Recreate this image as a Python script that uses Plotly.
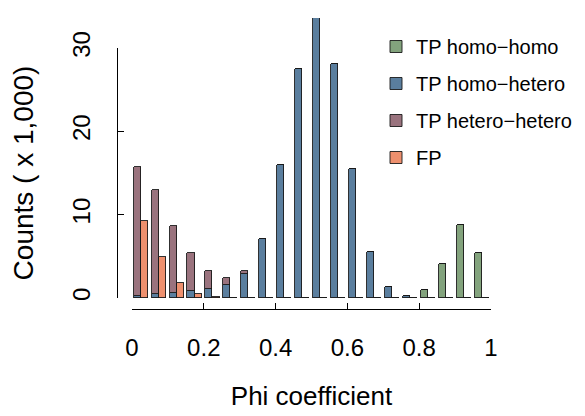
import plotly.graph_objects as go

# ---- data (counts in thousands) ----
bin_starts = [0.00, 0.05, 0.10, 0.15, 0.20, 0.25, 0.30, 0.35, 0.40, 0.45,
              0.50, 0.55, 0.60, 0.65, 0.70, 0.75, 0.80, 0.85, 0.90, 0.95]
tp_homo_homo = [0, 0, 0, 0, 0, 0, 0, 0, 0, 0,
                0, 0, 0, 0, 0, 0, 0.96, 4.08, 8.76, 5.36]
tp_homo_hetero = [0.25, 0.48, 0.64, 0.88, 1.04, 1.56, 2.88, 7.08, 15.96, 27.5,
                  34.1, 28.05, 15.44, 5.52, 1.36, 0.3, 0, 0, 0, 0]
tp_hetero_hetero = [15.5, 12.48, 8.0, 4.48, 2.2, 0.84, 0.36, 0, 0, 0,
                    0, 0, 0, 0, 0, 0, 0, 0, 0, 0]
fp = [9.24, 4.88, 1.84, 0.48, 0.12, 0, 0, 0, 0, 0,
      0, 0, 0, 0, 0, 0, 0, 0, 0, 0]
x_tick_vals = [0, 0.2, 0.4, 0.6, 0.8, 1.0]
x_tick_text = ["0", "0.2", "0.4", "0.6", "0.8", "1"]
y_tick_vals = [0, 10, 20, 30]

# ---- geometry (pixels, figure coordinates; page adds an 8px body margin) ----
W, H = 577, 408
L, R, T, B = 90, 495, 10, 315
X0PX, X1PX = 124, 483          # x = 0 and x = 1
Y0PX, Y30PX = 290, 40          # y = 0 and y = 30
XAXIS_Y = 301.3                # pixel row of the x axis line
YAXIS_X = 109.3                # pixel column of the y axis line
sx = (X1PX - X0PX) / 1.0
sy = (Y0PX - Y30PX) / 30.0
xr = [(L - X0PX) / sx, (R - X0PX) / sx]
yr = [(Y0PX - B) / sy, (Y0PX - T) / sy]

BW = 0.0196
OFF_TP = 0.0143
OFF_FP = 0.034
x_tp = [s + OFF_TP for s in bin_starts]
x_fp = [s + OFF_FP for s in bin_starts]

COL_GREEN = "#83A37D"
COL_BLUE = "#5A7E9E"
COL_PURPLE = "#9A737E"
COL_ORANGE = "#EE906E"
LINE = dict(color="#1a1a1a", width=0.9)
FONT = "Liberation Sans, Arial, Helvetica, sans-serif"

fig = go.Figure()
series = [
    ("TP homo\u2212homo", tp_homo_homo, x_tp, COL_GREEN),
    ("TP homo\u2212hetero", tp_homo_hetero, x_tp, COL_BLUE),
    ("TP hetero\u2212hetero", tp_hetero_hetero, x_tp, COL_PURPLE),
    ("FP", fp, x_fp, COL_ORANGE),
]
for i, (name, vals, xs, col) in enumerate(series):
    fig.add_trace(go.Bar(x=xs, y=vals, width=BW, name=name,
                         legendgroup="g%d" % i,
                         marker=dict(color=col, line=LINE)))

# decorative axis subplot (R-style axes spanning only the data range)
fig.add_trace(go.Scatter(x=[None], y=[None], xaxis="x2", yaxis="y2",
                         showlegend=False, hoverinfo="skip"))

pw, ph = R - L, B - T
fig.update_layout(
    width=W, height=H,
    margin=dict(l=L, r=W - R, t=T, b=H - B, pad=0, autoexpand=False),
    paper_bgcolor="white", plot_bgcolor="rgba(0,0,0,0)",
    barmode="stack", bargap=0,
    font=dict(family=FONT, color="black"),
    xaxis=dict(range=xr, visible=False, domain=[0, 1]),
    yaxis=dict(range=yr, visible=False, domain=[0, 1]),
    xaxis2=dict(range=[0, 1], domain=[(X0PX - L) / pw, (X1PX - L) / pw],
                anchor="free", position=(B - XAXIS_Y) / ph,
                showline=True, linecolor="black", linewidth=1,
                ticks="inside", ticklen=6, tickwidth=1, tickcolor="black",
                tickvals=x_tick_vals, ticktext=x_tick_text,
                tickfont=dict(size=24, family=FONT, color="black"),
                ticklabelstandoff=17,
                showgrid=False, zeroline=False,
                title=dict(text="Phi coefficient", standoff=26,
                           font=dict(size=26, family=FONT, color="black"))),
    yaxis2=dict(range=[0, 30], domain=[(B - Y0PX) / ph, (B - Y30PX) / ph],
                anchor="free", position=(YAXIS_X - L) / pw,
                showline=True, linecolor="black", linewidth=1,
                ticks="inside", ticklen=6, tickwidth=1, tickcolor="black",
                tickvals=y_tick_vals, tickangle=-90,
                tickfont=dict(size=24, family=FONT, color="black"),
                ticklabelstandoff=18,
                showgrid=False, zeroline=False,
                title=dict(text="Counts ( x 1,000)", standoff=28,
                           font=dict(size=28, family=FONT, color="black"))),
    legend=dict(xref="container", yref="container", x=368 / W, y=1 - 19 / H,
                xanchor="left", yanchor="top", traceorder="grouped",
                tracegroupgap=8, bgcolor="rgba(0,0,0,0)",
                font=dict(size=20, family=FONT, color="black")),
    showlegend=True,
)

fig.write_html("out.html")
